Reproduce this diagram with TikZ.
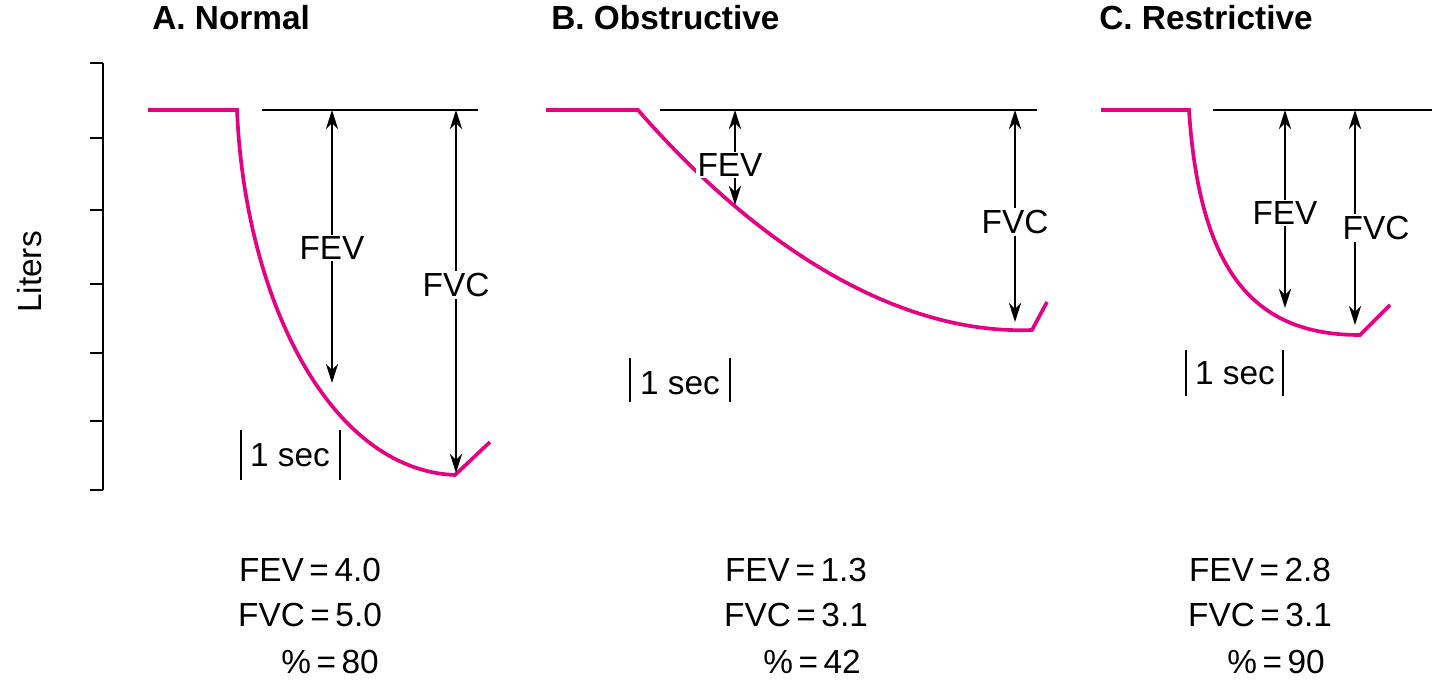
\documentclass[tikz,border=0pt]{standalone}
\usepackage{fontspec}
\setmainfont{Liberation Sans}
\usetikzlibrary{arrows.meta}
\begin{document}
\begin{tikzpicture}[x=0.02cm,y=-0.02cm,>={Stealth[length=11pt,width=7pt]}]
% --- styles ---------------------------------------------------
\tikzstyle{flow}=[draw={rgb,255:red,230;green,0;blue,130},line width=2.1pt]
\tikzstyle{base}=[line width=1.1pt]
\tikzstyle{meas}=[<->,line width=1.1pt]
\tikzstyle{lbl}=[fill=white,inner sep=1pt,font=\fontsize{19}{22}\selectfont]
\tikzstyle{ttl}=[anchor=west,inner sep=0pt,font=\bfseries\fontsize{19}{22}\selectfont]
\useasboundingbox (0,0) rectangle (1440,682);

% --- volume axis ----------------------------------------------
\draw[base] (103,63) -- (103,490);
\foreach \y in {63,138,210,284,353,421,490} \draw[base] (90,\y) -- (103,\y);
\node[lbl,rotate=90] (liters) at (30,272) {Liters};

% --- A. Normal ------------------------------------------------
\node[ttl] (tA) at (152,18) {A. Normal};
\draw[flow] (148,110) -- (237,110) .. controls (245,300) and (330,470) .. (455,475) -- (490,442);
\draw[base] (262,110) -- (478,110);
\coordinate (aF0) at (332,110); \coordinate (aF1) at (332,383);
\coordinate (aV0) at (456,110); \coordinate (aV1) at (456,473);
\draw[meas] (aF0) -- (aF1);
\draw[meas] (aV0) -- (aV1);
\node[lbl] (aFEV) at (332,248) {FEV};
\node[lbl] (aFVC) at (456,285) {FVC};
\node[lbl] (aSec) at (290,455) {1 sec};
\draw[base] (241,430) -- (241,480); \draw[base] (340,430) -- (340,480);
\node[lbl] (aR1) at (310,570) {FEV\,=\,4.0};
\node[lbl] (aR2) at (310,615) {FVC\,=\,5.0};
\node[lbl] (aR3) at (330,662) {\%\,=\,80};

% --- B. Obstructive -------------------------------------------
\node[ttl] (tB) at (551,18) {B. Obstructive};
\draw[flow] (546,110) -- (638,110) .. controls (760,250) and (900,335) .. (1032,330) -- (1047,302);
\draw[base] (660,110) -- (1037,110);
\coordinate (bF0) at (735,110); \coordinate (bF1) at (735,205);
\coordinate (bV0) at (1015,110); \coordinate (bV1) at (1015,322);
\draw[meas] (bF0) -- (bF1);
\draw[meas] (bV0) -- (bV1);
\node[lbl] (bFEV) at (730,165) {FEV};
\node[lbl] (bFVC) at (1015,222) {FVC};
\node[lbl] (bSec) at (680,383) {1 sec};
\draw[base] (630,358) -- (630,402); \draw[base] (730,358) -- (730,402);
\node[lbl] (bR1) at (796,570) {FEV\,=\,1.3};
\node[lbl] (bR2) at (796,615) {FVC\,=\,3.1};
\node[lbl] (bR3) at (812,662) {\%\,=\,42};

% --- C. Restrictive -------------------------------------------
\node[ttl] (tC) at (1099,18) {C. Restrictive};
\draw[flow] (1101,110) -- (1189,110) .. controls (1200,280) and (1260,335) .. (1360,335) -- (1390,305);
\draw[base] (1213,110) -- (1432,110);
\coordinate (cF0) at (1285,110); \coordinate (cF1) at (1285,308);
\coordinate (cV0) at (1355,110); \coordinate (cV1) at (1355,325);
\draw[meas] (cF0) -- (cF1);
\draw[meas] (cV0) -- (cV1);
\node[lbl] (cFEV) at (1285,213) {FEV};
\node[lbl] (cFVC) at (1376,228) {FVC};
\node[lbl] (cSec) at (1235,373) {1 sec};
\draw[base] (1186,350) -- (1186,396); \draw[base] (1283,350) -- (1283,396);
\node[lbl] (cR1) at (1260,570) {FEV\,=\,2.8};
\node[lbl] (cR2) at (1260,615) {FVC\,=\,3.1};
\node[lbl] (cR3) at (1276,662) {\%\,=\,90};
\end{tikzpicture}
\end{document}
